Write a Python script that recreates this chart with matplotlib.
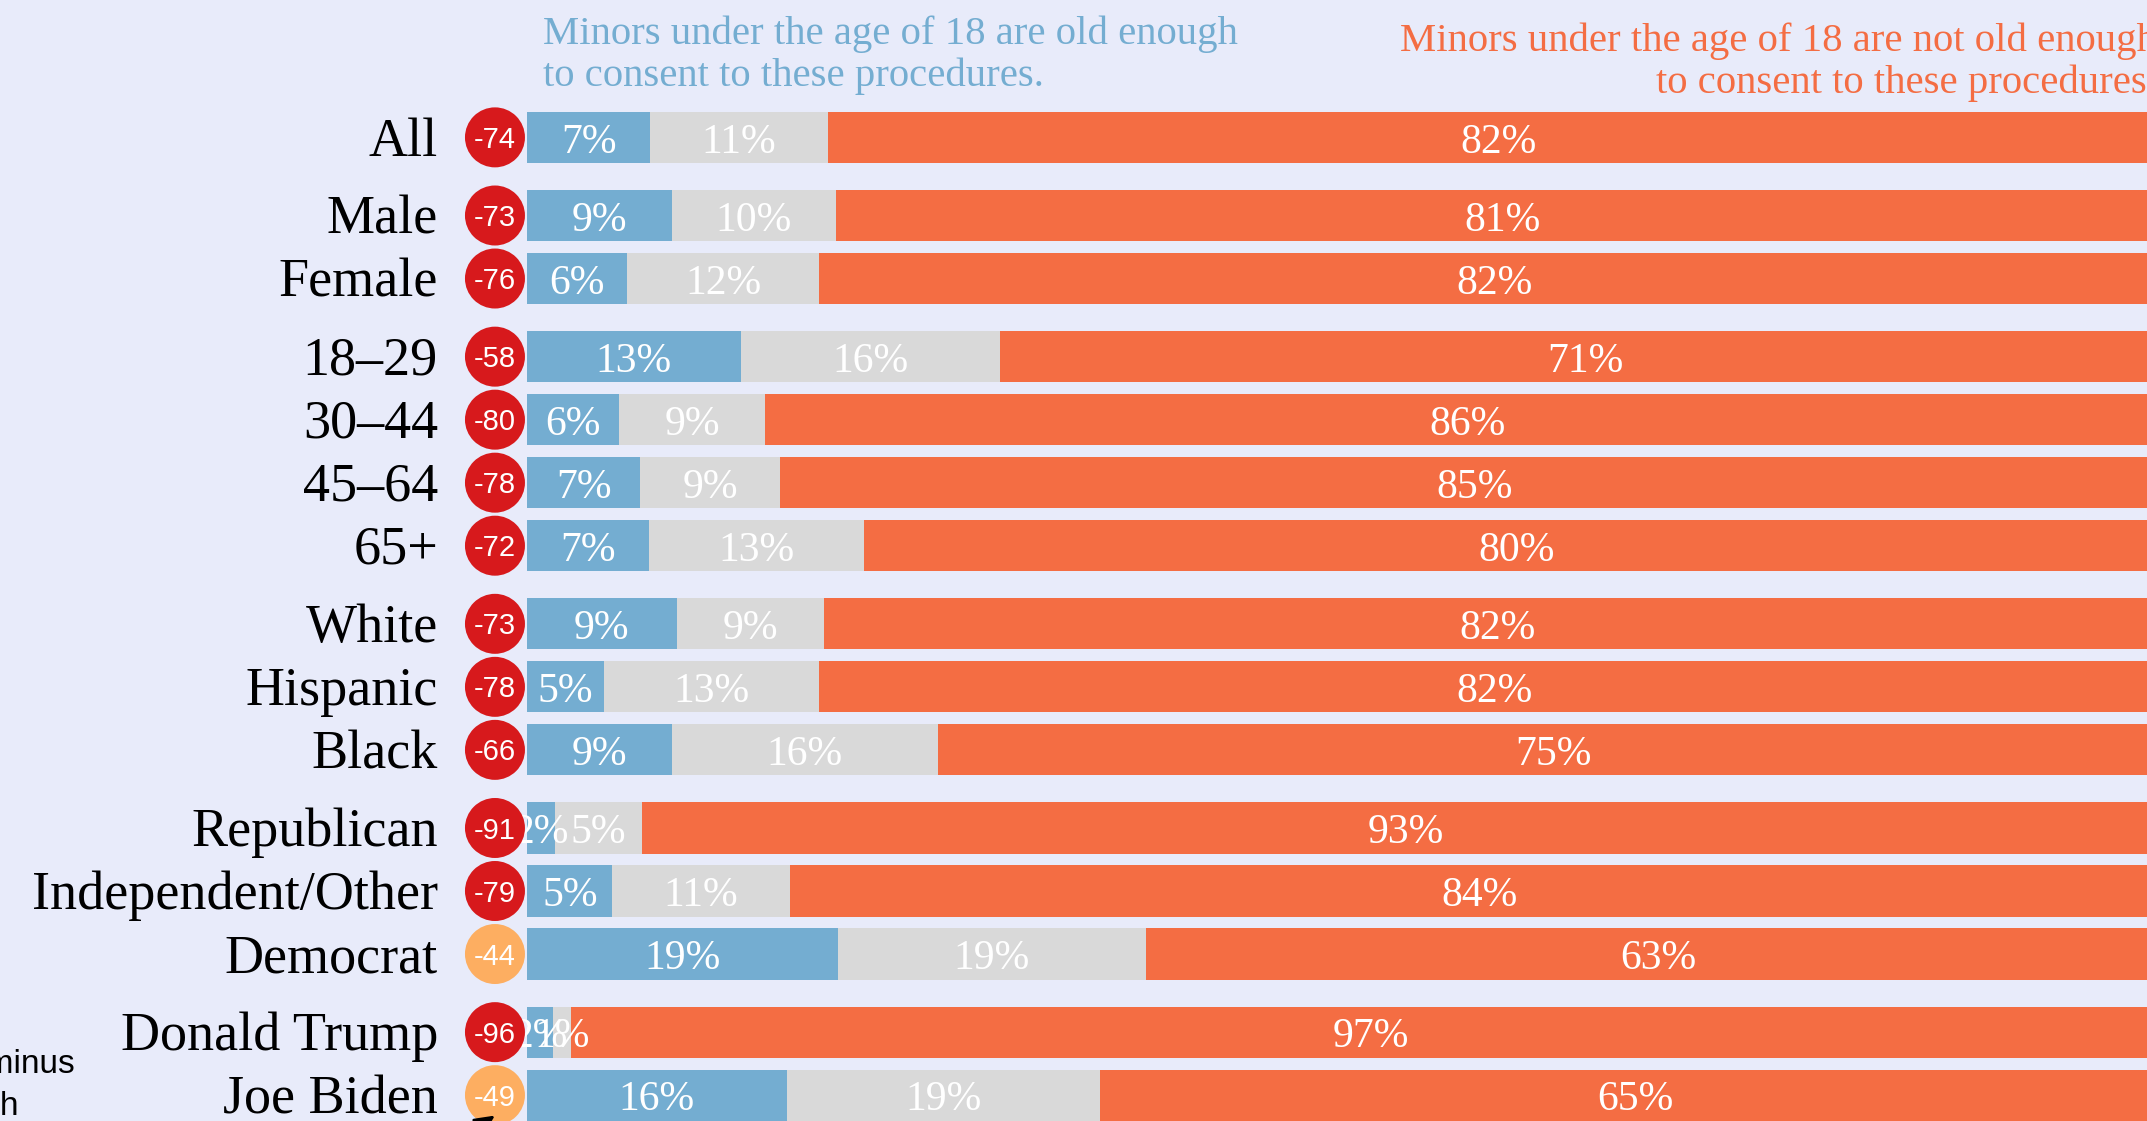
import matplotlib.pyplot as plt

# groups of rows, each bar split into three answers (width, %)
rows = ['All', 'Male', 'Female', '18–29', '30–44', '45–64', '65+',
        'White', 'Hispanic', 'Black', 'Republican', 'Independent/Other',
        'Democrat', 'Donald Trump', 'Joe Biden']
group_id = [0, 1, 1, 2, 2, 2, 2, 3, 3, 3, 4, 4, 4, 5, 5]

old_enough = [7.5, 8.8, 6.1, 13.0, 5.6, 6.9, 7.4, 9.1, 4.7, 8.8, 1.7, 5.2, 18.9, 1.6, 15.8]
not_sure = [10.8, 10.0, 11.7, 15.8, 8.9, 8.5, 13.1, 9.0, 13.1, 16.2, 5.3, 10.8, 18.8, 1.1, 19.1]
not_old_enough = [81.7, 81.2, 82.2, 71.2, 85.5, 84.6, 79.5, 81.9, 82.2, 75.0, 93.0, 84.0, 62.3, 97.3, 65.1]

# labels as printed on the chart
old_lbl = [7, 9, 6, 13, 6, 7, 7, 9, 5, 9, 2, 5, 19, 2, 16]
sure_lbl = [11, 10, 12, 16, 9, 9, 13, 9, 13, 16, 5, 11, 19, 1, 19]
not_lbl = [82, 81, 82, 71, 86, 85, 80, 82, 82, 75, 93, 84, 63, 97, 65]
net = [-74, -73, -76, -58, -80, -78, -72, -73, -78, -66, -91, -79, -44, -96, -49]

BG = '#e8ebfa'
BLUE = '#74add1'
GRAY = '#d9d9d9'
ORANGE = '#f46d43'
RED = '#d7191c'
LIGHT = '#fdae61'
SERIF = 'Liberation Serif'
SANS = 'Liberation Sans'

W, H = 2147, 1121
fig = plt.figure(figsize=(W / 100, H / 100), dpi=100, facecolor=BG)

# bar area runs past the right edge (the picture is a crop)
ax = fig.add_axes([527 / W, 0, 1643 / W, 1])
ax.set_xlim(0, 100)
ax.set_ylim(15.61, -2.18)
ax.axis('off')

gap = 0.24
ypos = [i + gap * g for i, g in enumerate(group_id)]
hgt = 0.81
dy = 0.08  # text sits a touch below the bar centre

left2 = [a + b for a, b in zip(old_enough, not_sure)]
ax.barh(ypos, old_enough, height=hgt, color=BLUE)
ax.barh(ypos, not_sure, left=old_enough, height=hgt, color=GRAY)
ax.barh(ypos, not_old_enough, left=left2, height=hgt, color=ORANGE)

for i, y in enumerate(ypos):
    segs = [(0, old_enough[i], old_lbl[i]),
            (old_enough[i], not_sure[i], sure_lbl[i]),
            (left2[i], not_old_enough[i], not_lbl[i])]
    for start, width, lbl in segs:
        ax.text(start + width / 2, y + dy, f'{lbl}%', ha='center', va='center',
                color='white', fontsize=30, family=SERIF)
    ax.text(-5.42, y + dy, rows[i], ha='right', va='center', fontsize=39,
            family=SERIF, color='black')
    ax.text(-1.95, y + 0.04, str(net[i]), ha='center', va='center', color='white',
            fontsize=21, family=SANS, zorder=5)

colors = [RED if n < -50 else LIGHT for n in net]
ax.scatter([-1.95] * len(ypos), ypos, s=1866, c=colors, clip_on=False,
           zorder=4, linewidths=0)

# headers
fig.text(543 / W, 1 - 44 / H, 'Minors under the age of 18 are old enough',
         color=BLUE, fontsize=29.3, family=SERIF, va='baseline')
fig.text(543 / W, 1 - 86 / H, 'to consent to these procedures.',
         color=BLUE, fontsize=29.3, family=SERIF, va='baseline')
fig.text(2157 / W, 1 - 51 / H, 'Minors under the age of 18 are not old enough',
         color=ORANGE, fontsize=29.3, family=SERIF, va='baseline', ha='right')
fig.text(2157 / W, 1 - 93 / H, 'to consent to these procedures.',
         color=ORANGE, fontsize=29.3, family=SERIF, va='baseline', ha='right')

# note at the lower left, mostly cut off
fig.text(75 / W, 48 / H, 'Old enough minus', fontsize=24, family=SANS,
         ha='right', va='baseline')
fig.text(19 / W, 6 / H, 'not old enough', fontsize=24, family=SANS,
         ha='right', va='baseline')
fig.add_artist(plt.matplotlib.patches.FancyArrowPatch(
    (430, -40), (497, 7), transform=None, arrowstyle='-|>',
    mutation_scale=30, color='black', lw=2))

fig.savefig('out.png', dpi=100, facecolor=BG)
